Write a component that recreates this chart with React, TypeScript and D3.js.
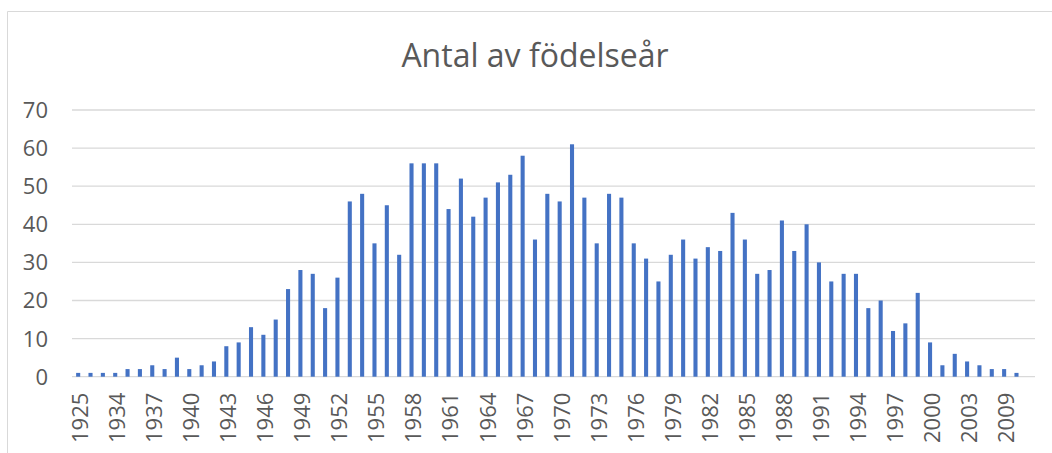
import React from "react";
import * as d3 from "d3";

const years: string[] = [
  "1925", "1928", "1931", "1934", "1935", "1936", "1937", "1938", "1939", "1940",
  "1941", "1942", "1943", "1944", "1945", "1946", "1947", "1948", "1949", "1950",
  "1951", "1952", "1953", "1954", "1955", "1956", "1957", "1958", "1959", "1960",
  "1961", "1962", "1963", "1964", "1965", "1966", "1967", "1968", "1969", "1970",
  "1971", "1972", "1973", "1974", "1975", "1976", "1977", "1978", "1979", "1980",
  "1981", "1982", "1983", "1984", "1985", "1986", "1987", "1988", "1989", "1990",
  "1991", "1992", "1993", "1994", "1995", "1996", "1997", "1998", "1999", "2000",
  "2001", "2002", "2003", "2005", "2007", "2009", "2011", "(tom)",
];

const counts: number[] = [
  1, 1, 1, 1, 2, 2, 3, 2, 5, 2,
  3, 4, 8, 9, 13, 11, 15, 23, 28, 27,
  18, 26, 46, 48, 35, 45, 32, 56, 56, 56,
  44, 52, 42, 47, 51, 53, 58, 36, 48, 46,
  61, 47, 35, 48, 47, 35, 31, 25, 32, 36,
  31, 34, 33, 43, 36, 27, 28, 41, 33, 40,
  30, 25, 27, 27, 18, 20, 12, 14, 22, 9,
  3, 6, 4, 3, 2, 2, 1, 0,
];

const xTickLabels: string[] = [
  "1925", "1934", "1937", "1940", "1943", "1946", "1949", "1952", "1955", "1958",
  "1961", "1964", "1967", "1970", "1973", "1976", "1979", "1982", "1985", "1988",
  "1991", "1994", "1997", "2000", "2003", "2009",
];

const yTicks: number[] = [0, 10, 20, 30, 40, 50, 60, 70];

const title = "Antal av födelseår";

export default function App() {
  const W = 1052;
  const H = 453;
  const left = 72;
  const right = 1035;
  const top = 110;
  const bottom = 376.7;

  const x = d3.scaleBand<string>().domain(years).range([left, right]).padding(0);
  const y = d3.scaleLinear().domain([0, 70]).range([bottom, top]);
  const barW = x.bandwidth() * 0.33;
  const font = "'Open Sans', sans-serif";
  const textColor = "#595959";

  return (
    <svg
      width={W}
      height={H}
      style={{ position: "absolute", left: 0, top: 0, background: "#fff" }}
    >
      <rect x={0} y={0} width={W} height={H} fill="#fff" />
      <path d={`M7.5,${H + 10} V11.5 H${W + 10}`} fill="none" stroke="#d9d9d9" strokeWidth={1} />
      <text
        x={535}
        y={67}
        textAnchor="middle"
        fontFamily={font}
        fontSize={32}
        fill={textColor}
      >
        {title}
      </text>
      {yTicks.map((t) => (
        <g key={t}>
          <line
            x1={left}
            x2={right}
            y1={y(t)}
            y2={y(t)}
            stroke="#d9d9d9"
            strokeWidth={1.3}
          />
          <text
            x={48}
            y={y(t)}
            dy="0.36em"
            textAnchor="end"
            fontFamily={font}
            fontSize={22}
            fill={textColor}
          >
            {t}
          </text>
        </g>
      ))}
      {years.map((yr, i) => (
        <rect
          key={yr}
          x={(x(yr) as number) + x.bandwidth() / 2 - barW / 2}
          y={y(counts[i])}
          width={barW}
          height={bottom - y(counts[i])}
          fill="#4472C4"
        />
      ))}
      {xTickLabels.map((lab) => {
        const cx = (x(lab) as number) + x.bandwidth() / 2;
        return (
          <text
            key={lab}
            transform={`translate(${cx},${bottom + 16}) rotate(-90)`}
            dy="0.45em"
            textAnchor="end"
            fontFamily={font}
            fontSize={22}
            fill={textColor}
          >
            {lab}
          </text>
        );
      })}
    </svg>
  );
}
